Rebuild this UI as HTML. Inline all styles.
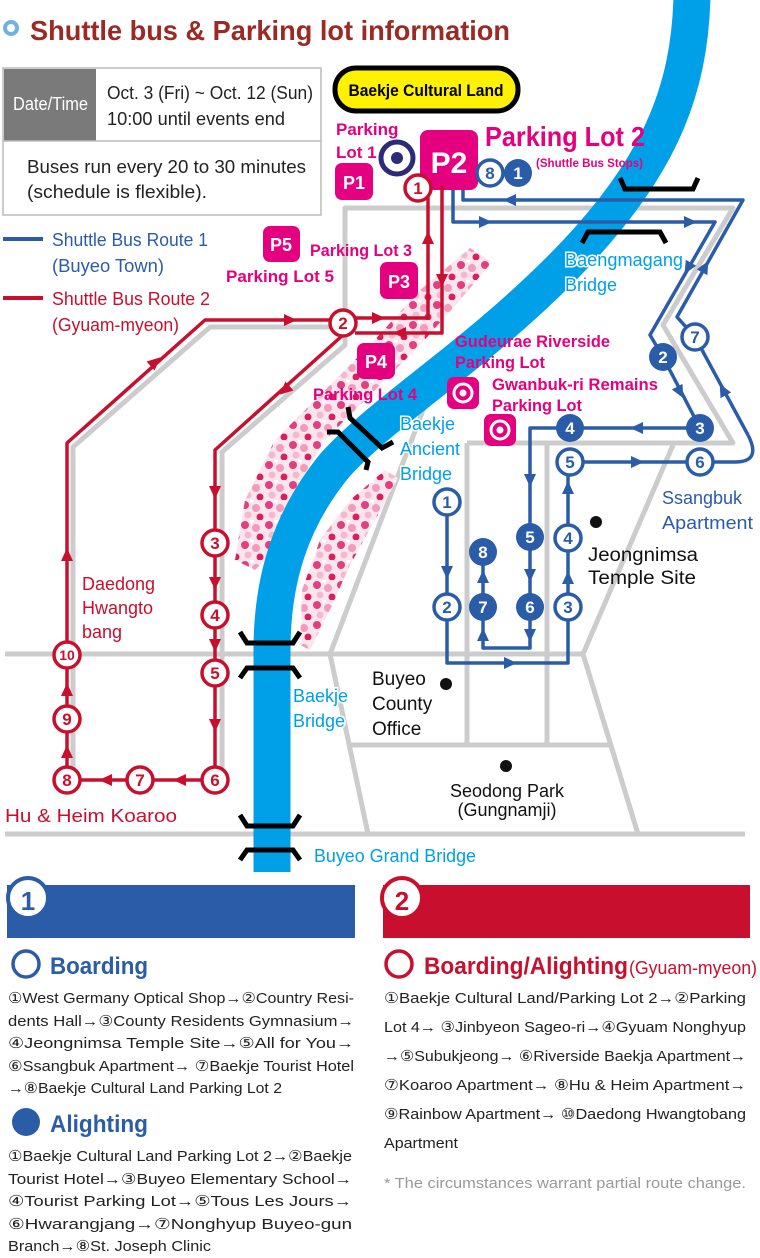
<!DOCTYPE html>
<html><head><meta charset="utf-8"><style>
html,body{margin:0;padding:0;background:#fff;}
svg{display:block;}
text{font-family:"Liberation Sans Narrow","Liberation Sans",sans-serif;}
</style></head><body>
<svg width="760" height="1258" viewBox="0 0 760 1258" xmlns="http://www.w3.org/2000/svg">
<defs>
<pattern id="fl" width="24" height="20" patternUnits="userSpaceOnUse">
<rect width="24" height="20" fill="#fbe6ee"/>
<circle cx="5" cy="5" r="4" fill="#e23f7e"/>
<circle cx="16" cy="8" r="4" fill="#f29bbd"/>
<circle cx="8" cy="15" r="3.5" fill="#f5b8cf"/>
<circle cx="20" cy="17" r="3.5" fill="#d8205f"/>
<circle cx="12" cy="1" r="2" fill="#fff"/>
</pattern>
<path id="ar" d="M-6,-6 L7,0 L-6,6Z"/>
</defs>

<!-- Title -->
<circle cx="11" cy="28" r="6" fill="none" stroke="#6fb3e0" stroke-width="4"/>
<text x="30" y="40" font-size="28" font-weight="bold" fill="#9b2a24" textLength="480" lengthAdjust="spacingAndGlyphs">Shuttle bus &amp; Parking lot information</text>

<!-- Date table -->
<rect x="3" y="68" width="318" height="147" fill="#fff" stroke="#bbb" stroke-width="1.5"/>
<rect x="4" y="69" width="92" height="72" fill="#7a7a7a"/>
<line x1="3" y1="141" x2="321" y2="141" stroke="#bbb" stroke-width="1.5"/>
<text x="13" y="110" font-size="18" fill="#fff" textLength="75" lengthAdjust="spacingAndGlyphs">Date/Time</text>
<text x="107" y="99" font-size="18" fill="#222" textLength="206" lengthAdjust="spacingAndGlyphs">Oct. 3 (Fri) ~ Oct. 12 (Sun)</text>
<text x="107" y="125" font-size="18" fill="#222" textLength="178" lengthAdjust="spacingAndGlyphs">10:00  until events end</text>
<text x="27" y="173" font-size="18" fill="#222" textLength="279" lengthAdjust="spacingAndGlyphs">Buses run every 20 to 30 minutes</text>
<text x="27" y="198" font-size="18" fill="#222" textLength="180" lengthAdjust="spacingAndGlyphs">(schedule is flexible).</text>

<!-- Legend -->
<line x1="3" y1="239" x2="43" y2="239" stroke="#2a5ca8" stroke-width="4"/>
<text x="52" y="246" font-size="18" fill="#2a5ca8" textLength="156" lengthAdjust="spacingAndGlyphs">Shuttle Bus Route 1</text>
<text x="52" y="272" font-size="18" fill="#2a5ca8" textLength="112" lengthAdjust="spacingAndGlyphs">(Buyeo Town)</text>
<line x1="3" y1="298" x2="43" y2="298" stroke="#c8102e" stroke-width="4"/>
<text x="52" y="305" font-size="18" fill="#c8102e" textLength="158" lengthAdjust="spacingAndGlyphs">Shuttle Bus Route 2</text>
<text x="52" y="331" font-size="18" fill="#c8102e" textLength="127" lengthAdjust="spacingAndGlyphs">(Gyuam-myeon)</text>

<!-- Gray roads -->
<g fill="none" stroke="#cccccc" stroke-width="5" stroke-linejoin="round">
<polyline points="73,780 73,447 210,327 345,327"/>
<polyline points="222,780 222,452 345,345 345,208 733,208 663,325 733,443 467,443"/>
<line x1="5" y1="654" x2="583" y2="654"/>
<line x1="5" y1="834" x2="745" y2="834"/>
<line x1="467" y1="443" x2="467" y2="745"/>
<line x1="547" y1="443" x2="547" y2="745"/>
<line x1="350" y1="745" x2="610" y2="745"/>
<polyline points="673,445 583,654 638,834"/>
<polyline points="425,405 330,654 368,834"/>
</g>

<!-- Flowers -->
<polygon points="235,560 245,500 275,440 320,395 370,345 420,290 470,248 492,262 460,300 420,345 370,395 325,440 295,490 275,550 255,570" fill="url(#fl)"/>
<polygon points="300,645 302,590 320,540 350,500 385,470 398,478 375,520 350,565 330,610 310,650" fill="url(#fl)"/>

<!-- River -->
<path d="M692,-5 C690,90 660,170 560,270 C470,360 385,410 335,465 C290,520 272,580 272,650 L272,872" fill="none" stroke="#00a0e9" stroke-width="37"/>

<!-- Bridges -->
<g fill="none" stroke="#000" stroke-width="5" stroke-linejoin="miter">
<polyline points="620,178 625,189 693,189 698,178"/>
<polyline points="582,243 588,232 660,232 666,243"/>
<polyline points="240,632 247,643 293,643 300,632"/>
<polyline points="240,678 247,668 293,668 300,678"/>
<polyline points="240,815 247,826 293,826 300,815"/>
<polyline points="240,860 247,850 293,850 300,860"/>
<polyline points="348,407 350,418 382,448 393,442"/>
<polyline points="327,432 338,432 368,462 366,470"/>
</g>

<!-- Parking boxes (under routes) -->
<g fill="#e4007f">
<rect x="420" y="130" width="58" height="60" rx="8"/>
<rect x="335" y="163" width="38" height="37" rx="7"/>
<rect x="263" y="226" width="37" height="36" rx="7"/>
<rect x="380" y="262" width="38" height="37" rx="7"/>
<rect x="357" y="343" width="38" height="36" rx="7"/>
<rect x="447" y="377" width="32" height="32" rx="7"/>
<rect x="484" y="414" width="32" height="32" rx="7"/>
</g>
<circle cx="463" cy="393" r="9" fill="none" stroke="#fff" stroke-width="3"/><circle cx="463" cy="393" r="3.5" fill="#fff"/>
<circle cx="500" cy="430" r="9" fill="none" stroke="#fff" stroke-width="3"/><circle cx="500" cy="430" r="3.5" fill="#fff"/>
<circle cx="397" cy="158" r="16" fill="#fff" stroke="#2e2a7a" stroke-width="5"/>
<circle cx="397" cy="158" r="6" fill="#2e2a7a"/>
<g fill="#fff" font-weight="bold" text-anchor="middle">
<text x="449" y="173" font-size="30">P2</text>
<text x="354" y="189" font-size="18">P1</text>
<text x="281" y="251" font-size="18">P5</text>
<text x="399" y="288" font-size="18">P3</text>
<text x="376" y="368" font-size="18">P4</text>
</g>

<!-- Red route -->
<g fill="none" stroke="#c8102e" stroke-width="3.5" stroke-linejoin="round">
<polyline points="343,320 205,320 67,443 67,780 215,780 215,450 343,335"/>
<polyline points="343,318 428,318 428,195"/>
<polyline points="442,185 442,333 355,333"/>
</g>
<g fill="#c8102e">
<use href="#ar" transform="translate(290,320)"/>
<use href="#ar" transform="translate(155,362) rotate(-42)"/>
<use href="#ar" transform="translate(67,555) rotate(-90)"/>
<use href="#ar" transform="translate(67,690) rotate(-90)"/>
<use href="#ar" transform="translate(67,752) rotate(-90)"/>
<use href="#ar" transform="translate(106,780) rotate(180)"/>
<use href="#ar" transform="translate(180,780) rotate(180)"/>
<use href="#ar" transform="translate(215,492) rotate(90)"/>
<use href="#ar" transform="translate(215,583) rotate(90)"/>
<use href="#ar" transform="translate(215,645) rotate(90)"/>
<use href="#ar" transform="translate(215,725) rotate(90)"/>
<use href="#ar" transform="translate(285,390) rotate(138)"/>
<use href="#ar" transform="translate(378,318)"/>
<use href="#ar" transform="translate(400,333) rotate(180)"/>
<use href="#ar" transform="translate(428,238) rotate(-90)"/>
<use href="#ar" transform="translate(442,280) rotate(90)"/>
</g>
<g fill="#fff" stroke="#c8102e" stroke-width="3.5">
<circle cx="418" cy="188" r="13"/>
<circle cx="343" cy="323" r="13"/>
<circle cx="215" cy="543" r="13"/>
<circle cx="215" cy="615" r="13"/>
<circle cx="215" cy="673" r="13"/>
<circle cx="215" cy="780" r="13"/>
<circle cx="140" cy="780" r="13"/>
<circle cx="67" cy="780" r="13"/>
<circle cx="67" cy="719" r="13"/>
<circle cx="67" cy="655" r="13"/>
</g>
<g fill="#c8102e" font-size="17" font-weight="bold" text-anchor="middle">
<text x="418" y="194">1</text><text x="343" y="329">2</text>
<text x="215" y="549">3</text><text x="215" y="621">4</text><text x="215" y="679">5</text>
<text x="215" y="786">6</text><text x="140" y="786">7</text><text x="67" y="786">8</text>
<text x="67" y="725">9</text><text x="67" y="660" font-size="14">10</text>
</g>

<!-- Blue route -->
<g fill="none" stroke="#2a5ca8" stroke-width="3.5" stroke-linejoin="round">
<polyline points="463,190 463,200 743,200 677,317 695,337 748,435"/>
<path d="M748,435 Q762,462 735,462 L570,462"/>
<polyline points="453,190 453,222 715,222 650,335 663,357 700,428 530,428 530,648 483,648 483,552"/>
<polyline points="447,502 447,663 568,663 568,462"/>
</g>
<g fill="#2a5ca8">
<use href="#ar" transform="translate(485,222)"/>
<use href="#ar" transform="translate(690,222)"/>
<use href="#ar" transform="translate(510,200) rotate(180)"/>
<use href="#ar" transform="translate(688,268) rotate(120)"/>
<use href="#ar" transform="translate(680,392) rotate(62)"/>
<use href="#ar" transform="translate(637,428) rotate(180)"/>
<use href="#ar" transform="translate(530,480) rotate(90)"/>
<use href="#ar" transform="translate(530,575) rotate(90)"/>
<use href="#ar" transform="translate(530,635) rotate(90)"/>
<use href="#ar" transform="translate(483,635) rotate(-90)"/>
<use href="#ar" transform="translate(483,577) rotate(-90)"/>
<use href="#ar" transform="translate(447,572) rotate(90)"/>
<use href="#ar" transform="translate(510,663)"/>
<use href="#ar" transform="translate(568,578) rotate(-90)"/>
<use href="#ar" transform="translate(568,488) rotate(-90)"/>
<use href="#ar" transform="translate(637,462)"/>
<use href="#ar" transform="translate(723,390) rotate(-118)"/>
<use href="#ar" transform="translate(705,267) rotate(-61)"/>
</g>
<g fill="#fff" stroke="#2a5ca8" stroke-width="3.5">
<circle cx="490" cy="173" r="13"/>
<circle cx="695" cy="337" r="13"/>
<circle cx="700" cy="462" r="13"/>
<circle cx="570" cy="462" r="13"/>
<circle cx="447" cy="502" r="13"/>
<circle cx="447" cy="607" r="13"/>
<circle cx="568" cy="607" r="13"/>
<circle cx="568" cy="538" r="13"/>
</g>
<g fill="#2a5ca8">
<circle cx="518" cy="173" r="14"/>
<circle cx="663" cy="357" r="14"/>
<circle cx="700" cy="428" r="14"/>
<circle cx="570" cy="428" r="14"/>
<circle cx="530" cy="537" r="14"/>
<circle cx="530" cy="607" r="14"/>
<circle cx="483" cy="607" r="14"/>
<circle cx="483" cy="552" r="14"/>
</g>
<g font-size="17" font-weight="bold" text-anchor="middle">
<g fill="#2a5ca8">
<text x="490" y="179">8</text><text x="695" y="343">7</text><text x="700" y="468">6</text>
<text x="570" y="468">5</text><text x="447" y="508">1</text><text x="447" y="613">2</text>
<text x="568" y="613">3</text><text x="568" y="544">4</text>
</g>
<g fill="#fff">
<text x="518" y="179">1</text><text x="663" y="363">2</text><text x="700" y="434">3</text>
<text x="570" y="434">4</text><text x="530" y="543">5</text><text x="530" y="613">6</text>
<text x="483" y="613">7</text><text x="483" y="558">8</text>
</g>
</g>

<!-- Yellow pill -->
<rect x="335" y="68" width="183" height="43" rx="21" fill="#fff200" stroke="#000" stroke-width="5"/>
<text x="426" y="96" font-size="17" font-weight="bold" fill="#000" text-anchor="middle" textLength="155" lengthAdjust="spacingAndGlyphs">Baekje Cultural Land</text>

<g fill="#e4007f" font-weight="bold">
<text x="485" y="146" font-size="28" textLength="160" lengthAdjust="spacingAndGlyphs">Parking Lot 2</text>
<text x="536" y="167" font-size="12" textLength="107" lengthAdjust="spacingAndGlyphs">(Shuttle Bus Stops)</text>
<text x="336" y="135" font-size="17">Parking</text>
<text x="336" y="158" font-size="17">Lot 1</text>
<text x="310" y="256" font-size="17" textLength="102" lengthAdjust="spacingAndGlyphs">Parking Lot 3</text>
<text x="226" y="282" font-size="17" textLength="108" lengthAdjust="spacingAndGlyphs">Parking Lot 5</text>
<text x="313" y="400" font-size="17" textLength="104" lengthAdjust="spacingAndGlyphs">Parking Lot 4</text>
<text x="455" y="347" font-size="17" textLength="155" lengthAdjust="spacingAndGlyphs">Gudeurae Riverside</text>
<text x="455" y="368" font-size="17" textLength="90" lengthAdjust="spacingAndGlyphs">Parking Lot</text>
<text x="492" y="390" font-size="17" textLength="166" lengthAdjust="spacingAndGlyphs">Gwanbuk-ri Remains</text>
<text x="492" y="411" font-size="17" textLength="90" lengthAdjust="spacingAndGlyphs">Parking Lot</text>
</g>

<!-- Bridge labels -->
<g fill="#00a0e9" font-size="18" stroke="#fff" stroke-width="3" paint-order="stroke">
<text x="565" y="266" textLength="118" lengthAdjust="spacingAndGlyphs">Baengmagang</text>
<text x="565" y="291">Bridge</text>
<text x="400" y="430">Baekje</text>
<text x="400" y="455">Ancient</text>
<text x="400" y="480">Bridge</text>
<text x="293" y="702">Baekje</text>
<text x="293" y="727">Bridge</text>
<text x="314" y="862" textLength="162" lengthAdjust="spacingAndGlyphs">Buyeo Grand Bridge</text>
</g>
<g fill="#2a5ca8" font-size="18">
<text x="662" y="504">Ssangbuk</text>
<text x="662" y="529" textLength="91" lengthAdjust="spacingAndGlyphs">Apartment</text>
</g>
<g fill="#111" font-size="19">
<circle cx="596" cy="522" r="6"/>
<text x="588" y="561" textLength="110" lengthAdjust="spacingAndGlyphs">Jeongnimsa</text>
<text x="588" y="584" textLength="108" lengthAdjust="spacingAndGlyphs">Temple Site</text>
<circle cx="446" cy="684" r="6"/>
<text x="372" y="685">Buyeo</text>
<text x="372" y="710">County</text>
<text x="372" y="735">Office</text>
<circle cx="506" cy="766" r="6"/>
<text x="507" y="797" text-anchor="middle" font-size="18">Seodong Park</text>
<text x="507" y="816" text-anchor="middle" font-size="18">(Gungnamji)</text>
</g>
<g fill="#c8102e" font-size="18">
<text x="82" y="590">Daedong</text>
<text x="82" y="614">Hwangto</text>
<text x="82" y="638">bang</text>
<text x="5" y="822" textLength="172" lengthAdjust="spacingAndGlyphs">Hu &amp; Heim  Koaroo</text>
</g>

<!-- Bottom section -->
<rect x="7" y="885" width="348" height="53" fill="#2a5ca8"/>
<circle cx="28" cy="898" r="20" fill="#fff" stroke="#2a5ca8" stroke-width="4"/>
<text x="28" y="910" font-size="26" font-weight="bold" fill="#2a5ca8" text-anchor="middle">1</text>
<rect x="383" y="885" width="367" height="53" fill="#c8102e"/>
<circle cx="402" cy="898" r="20" fill="#fff" stroke="#c8102e" stroke-width="4"/>
<text x="402" y="910" font-size="26" font-weight="bold" fill="#c8102e" text-anchor="middle">2</text>

<circle cx="26" cy="964" r="13" fill="none" stroke="#2a5ca8" stroke-width="3.5"/>
<text x="50" y="974" font-size="24" font-weight="bold" fill="#2a5ca8" textLength="98" lengthAdjust="spacingAndGlyphs">Boarding</text>
<g font-size="15" fill="#222">
<text x="8" y="1003" textLength="346" lengthAdjust="spacingAndGlyphs">①West Germany Optical Shop→②Country Resi-</text>
<text x="8" y="1026" textLength="346" lengthAdjust="spacingAndGlyphs">dents  Hall→③County  Residents  Gymnasium→</text>
<text x="8" y="1048" textLength="346" lengthAdjust="spacingAndGlyphs">④Jeongnimsa  Temple  Site→⑤All  for  You→</text>
<text x="8" y="1071" textLength="346" lengthAdjust="spacingAndGlyphs">⑥Ssangbuk Apartment→ ⑦Baekje Tourist Hotel</text>
<text x="8" y="1093" textLength="274" lengthAdjust="spacingAndGlyphs">→⑧Baekje Cultural Land Parking Lot 2</text>
</g>
<circle cx="26" cy="1122" r="14" fill="#2a5ca8"/>
<text x="50" y="1132" font-size="24" font-weight="bold" fill="#2a5ca8" textLength="98" lengthAdjust="spacingAndGlyphs">Alighting</text>
<g font-size="15" fill="#222">
<text x="8" y="1161" textLength="344" lengthAdjust="spacingAndGlyphs">①Baekje Cultural Land Parking Lot 2→②Baekje</text>
<text x="8" y="1184" textLength="344" lengthAdjust="spacingAndGlyphs">Tourist  Hotel→③Buyeo  Elementary  School→</text>
<text x="8" y="1206" textLength="344" lengthAdjust="spacingAndGlyphs">④Tourist  Parking  Lot→⑤Tous  Les  Jours→</text>
<text x="8" y="1229" textLength="344" lengthAdjust="spacingAndGlyphs">⑥Hwarangjang→⑦Nonghyup Buyeo-gun</text>
<text x="8" y="1251" textLength="203" lengthAdjust="spacingAndGlyphs">Branch→⑧St. Joseph Clinic</text>
</g>

<circle cx="399" cy="964" r="13" fill="none" stroke="#c8102e" stroke-width="3.5"/>
<text x="424" y="974" font-size="24" font-weight="bold" fill="#c8102e" textLength="204" lengthAdjust="spacingAndGlyphs">Boarding/Alighting</text>
<text x="629" y="974" font-size="18" fill="#c8102e" textLength="128" lengthAdjust="spacingAndGlyphs">(Gyuam-myeon)</text>
<g font-size="15" fill="#222">
<text x="384" y="1003" textLength="362" lengthAdjust="spacingAndGlyphs">①Baekje  Cultural  Land/Parking  Lot  2→②Parking</text>
<text x="384" y="1032" textLength="362" lengthAdjust="spacingAndGlyphs">Lot 4→ ③Jinbyeon Sageo-ri→④Gyuam Nonghyup</text>
<text x="384" y="1061" textLength="362" lengthAdjust="spacingAndGlyphs">→⑤Subukjeong→ ⑥Riverside Baekja Apartment→</text>
<text x="384" y="1090" textLength="362" lengthAdjust="spacingAndGlyphs">⑦Koaroo Apartment→ ⑧Hu &amp; Heim Apartment→</text>
<text x="384" y="1119" textLength="362" lengthAdjust="spacingAndGlyphs">⑨Rainbow Apartment→ ⑩Daedong Hwangtobang</text>
<text x="384" y="1148" textLength="74" lengthAdjust="spacingAndGlyphs">Apartment</text>
</g>
<text x="384" y="1188" font-size="15" fill="#999" textLength="362" lengthAdjust="spacingAndGlyphs">*  The circumstances warrant partial route change.</text>
</svg>
</body></html>
